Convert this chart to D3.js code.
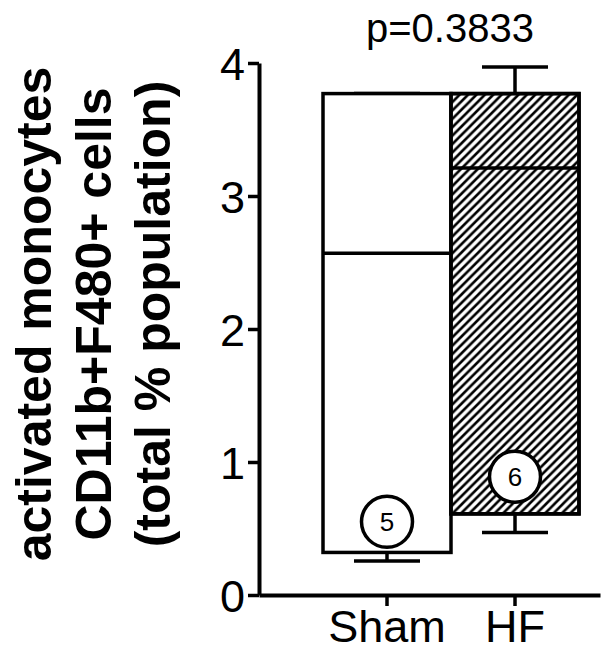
<!DOCTYPE html>
<html>
<head>
<meta charset="utf-8">
<script src="https://cdn.jsdelivr.net/npm/d3@7"></script>
<style>
  body { margin: 0; background: #fff; }
  text { font-family: "Liberation Sans", Arial, sans-serif; }
</style>
</head>
<body>
<svg id="chart"></svg>
<script>
const WIDTH = 607, HEIGHT = 663;

// datos
const groups = ["Sham", "HF"];
const whiskerLow = [0.255, 0.47];
const boxLow = [0.32, 0.61];
const medians = [2.57, 3.21];
const boxHigh = [3.77, 3.77];
const whiskerHigh = [3.77, 3.97];
const nValues = [5, 6];
const nLabelPos = [0.55, 0.89];
const hatched = [false, true];
const yTicks = [0, 1, 2, 3, 4];
const yLabelLines = ["activated monocytes", "CD11b+F480+ cells", "(total % population)"];
const pText = "p=0.3833";

const svg = d3.select("svg#chart")
              .attr("width", WIDTH)
              .attr("height", HEIGHT);

const defs = svg.append("defs");
defs.append("pattern")
    .attr("id", "hatch")
    .attr("patternUnits", "userSpaceOnUse")
    .attr("width", 8.4)
    .attr("height", 8.4)
    .append("path")
        .attr("d", "M-2.1,2.1 L2.1,-2.1 M0,8.4 L8.4,0 M6.3,10.5 L10.5,6.3")
        .attr("stroke", "black")
        .attr("stroke-width", 2.6);

const x = d3.scaleBand()
            .domain(groups)
            .range([259, 600])
            .paddingInner(0)
            .paddingOuter(0.332)
            .align(0.753);

const y = d3.scaleLinear()
            .domain([0, 4])
            .range([595, 63]);

const data = groups.map((g, i) => ({
    group: g,
    wl: whiskerLow[i], bl: boxLow[i], med: medians[i],
    bh: boxHigh[i], wh: whiskerHigh[i],
    n: nValues[i], npos: nLabelPos[i], hatched: hatched[i]
}));

const plot = svg.append("g");
const capHalf = 33;

// bigotes
data.forEach(d => {
    const cx = x(d.group) + x.bandwidth() / 2;
    plot.append("line")
        .attr("x1", cx).attr("x2", cx)
        .attr("y1", y(d.wl)).attr("y2", y(d.wh))
        .attr("stroke", "black").attr("stroke-width", 3.5);
    [d.wl, d.wh].forEach(v => {
        plot.append("line")
            .attr("x1", cx - capHalf).attr("x2", cx + capHalf)
            .attr("y1", y(v)).attr("y2", y(v))
            .attr("stroke", "black").attr("stroke-width", 3.5);
    });
});

// cajas
plot.selectAll("rect.box")
    .data(data)
    .join("rect")
        .attr("class", "box")
        .attr("x", d => x(d.group))
        .attr("width", x.bandwidth())
        .attr("y", d => y(d.bh))
        .attr("height", d => y(d.bl) - y(d.bh))
        .attr("fill", "white")
        .attr("stroke", "black")
        .attr("stroke-width", 3.5);

plot.selectAll("rect.hatch")
    .data(data.filter(d => d.hatched))
    .join("rect")
        .attr("class", "hatch")
        .attr("x", d => x(d.group))
        .attr("width", x.bandwidth())
        .attr("y", d => y(d.bh))
        .attr("height", d => y(d.bl) - y(d.bh))
        .attr("fill", "url(#hatch)")
        .attr("stroke", "black")
        .attr("stroke-width", 3.5);

plot.selectAll("line.median")
    .data(data)
    .join("line")
        .attr("class", "median")
        .attr("x1", d => x(d.group))
        .attr("x2", d => x(d.group) + x.bandwidth())
        .attr("y1", d => y(d.med))
        .attr("y2", d => y(d.med))
        .attr("stroke", "black")
        .attr("stroke-width", 3.5);

// circulos con n
const nGroup = plot.selectAll("g.n")
    .data(data)
    .join("g")
        .attr("class", "n")
        .attr("transform", d => `translate(${x(d.group) + x.bandwidth() / 2}, ${y(d.npos)})`);
nGroup.append("circle")
    .attr("r", 25.5)
    .attr("fill", "white")
    .attr("stroke", "black")
    .attr("stroke-width", 3.5);
nGroup.append("text")
    .attr("text-anchor", "middle")
    .attr("dy", "0.36em")
    .style("font-size", "26px")
    .text(d => d.n);

// ejes
const yAxis = svg.append("g")
    .attr("transform", "translate(259,0)")
    .call(d3.axisLeft(y).tickValues(yTicks).tickFormat(d3.format("d")).tickSize(11).tickSizeOuter(0).tickPadding(3));
yAxis.select(".domain").attr("stroke-width", 4);
yAxis.selectAll(".tick line").attr("stroke-width", 3.5);
yAxis.selectAll(".tick text")
    .style("font-size", "45px")
    .attr("fill", "black")
    .attr("dy", "0.36em");

const xAxis = svg.append("g")
    .attr("transform", "translate(0,595)")
    .call(d3.axisBottom(x).tickSize(11).tickSizeOuter(0).tickPadding(4));
xAxis.select(".domain").attr("stroke-width", 4);
xAxis.selectAll(".tick line").attr("stroke-width", 3.5);
xAxis.selectAll(".tick text")
    .style("font-size", "45px")
    .attr("fill", "black")
    .attr("dy", "0.71em");

// titulo del eje y
const yLabel = svg.append("text")
    .attr("transform", "translate(0,314) rotate(-90)")
    .attr("text-anchor", "middle")
    .style("font-size", "50px")
    .style("font-weight", "bold");
yLabel.selectAll("tspan")
    .data(yLabelLines)
    .join("tspan")
        .attr("x", 0)
        .attr("y", (d, i) => 51 + i * 59.5)
        .text(d => d);

// valor p
svg.append("text")
    .attr("x", 450)
    .attr("y", 42)
    .attr("text-anchor", "middle")
    .style("font-size", "40px")
    .text(pText);
</script>
</body>
</html>
